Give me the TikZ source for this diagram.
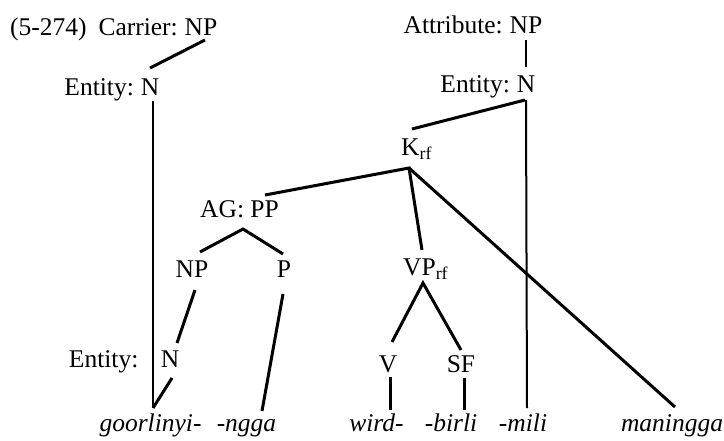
\documentclass[tikz,border=0pt]{standalone}
\usepackage{fontspec}
\setmainfont{Liberation Serif}
\usetikzlibrary{calc}
\newcommand\treefont{\fontsize{25.5}{30}\selectfont}
\tikzset{
  cat/.style={inner sep=0pt, font=\treefont, text height=0.7em, text depth=0.22em, anchor=base},
  role/.style={cat, anchor=base east},
  word/.style={inner sep=0pt, font=\treefont\itshape, text height=0.7em, text depth=0.22em, anchor=base},
  branch/.style={line width=3pt},
  stem/.style={line width=2pt},
}
\begin{document}
\begin{tikzpicture}[x=1pt, y=-1pt]
\useasboundingbox (0,0) rectangle (724,440);

% example number and top-level constituents
\node[cat, anchor=base west] (num) at (10,35) {(5-274)};
\node[cat] (cnp) at (201,35) {NP};
\node[role] (carrier) at ([xshift=-6.5pt]cnp.base west) {Carrier:};
\node[cat] (anp) at (526,33) {NP};
\node[role] (attribute) at ([xshift=-6.5pt]anp.base west) {Attribute:};

% heads of the two noun phrases
\node[cat] (en1) at (150,95) {N};
\node[role] (entity1) at ([xshift=-6.5pt]en1.base west) {Entity:};
\node[cat] (en2) at (526,92) {N};
\node[role] (entity2) at ([xshift=-6.5pt]en2.base west) {Entity:};

% inner structure
\node[cat, anchor=base west] (krf) at (401,155) {K\textsubscript{rf}};
\node[cat, anchor=base west] (agpp) at (200,217) {AG: PP};
\node[cat] (np) at (192,277) {NP};
\node[cat] (p) at (284,277) {P};
\node[cat, anchor=base west] (vprf) at (403,275) {VP\textsubscript{rf}};
\node[cat] (en3) at (170,367) {N};
\node[role] (entity3) at ([xshift=-22pt]en3.base west) {Entity:};
\node[cat] (v) at (388,372) {V};
\node[cat] (sf) at (461,372) {SF};

% morphemes
\node[word] (goor) at (150.5,431) {goorlinyi-};
\node[word] (ngga) at (246.5,431) {-ngga};
\node[word] (wird) at (376.5,431) {wird-};
\node[word] (birli) at (451,431) {-birli};
\node[word] (mili) at (523,431) {-mili};
\node[word] (man) at (672,431) {maningga};

% branches
\draw[branch] ($(cnp.base)+(4,5)$) -- ($(en1.base)+(0,-27)$);
\draw[stem] ($(en1.base)+(3,6)$) -- ($(goor.base)+(2.5,-23)$);
\draw[stem] ($(anp.base)+(0,7)$) -- ($(en2.base)+(0,-25)$);
\draw[branch] ($(krf.base west)+(11,-26)$) -- ($(en2.base)+(-1,8)$);
\draw[stem] ($(en2.base)+(0,8)$) -- ($(mili.base)+(4,-23)$);
\draw[branch] ($(agpp.base west)+(65,-22)$) -- ($(krf.base west)+(8,13)$)
              -- ($(vprf.base west)+(19,-25)$);
\draw[branch] ($(krf.base west)+(8,13)$) -- ($(man.base)+(3,-24)$);
\draw[branch] ($(np.base)+(8,-25)$) -- ($(agpp.base west)+(43,12)$) -- ($(p.base)+(-1,-23)$);
\draw[branch] ($(np.base)+(3,13)$) -- ($(en3.base)+(7,-24)$);
\draw[branch] ($(en3.base)+(2,11)$) -- ($(goor.base)+(2.5,-23)$);
\draw[branch] ($(p.base)+(-1,17)$) -- ($(ngga.base)+(15.5,-20)$);
\draw[branch] ($(v.base)+(4,-30)$) -- ($(vprf.base west)+(20,8)$) -- ($(sf.base)+(0,-22)$);
\draw[branch] ($(v.base)+(2,5)$) -- ($(wird.base)+(13.5,-21)$);
\draw[branch] ($(sf.base)+(3,6)$) -- ($(birli.base)+(13,-21)$);
\end{tikzpicture}
\end{document}
